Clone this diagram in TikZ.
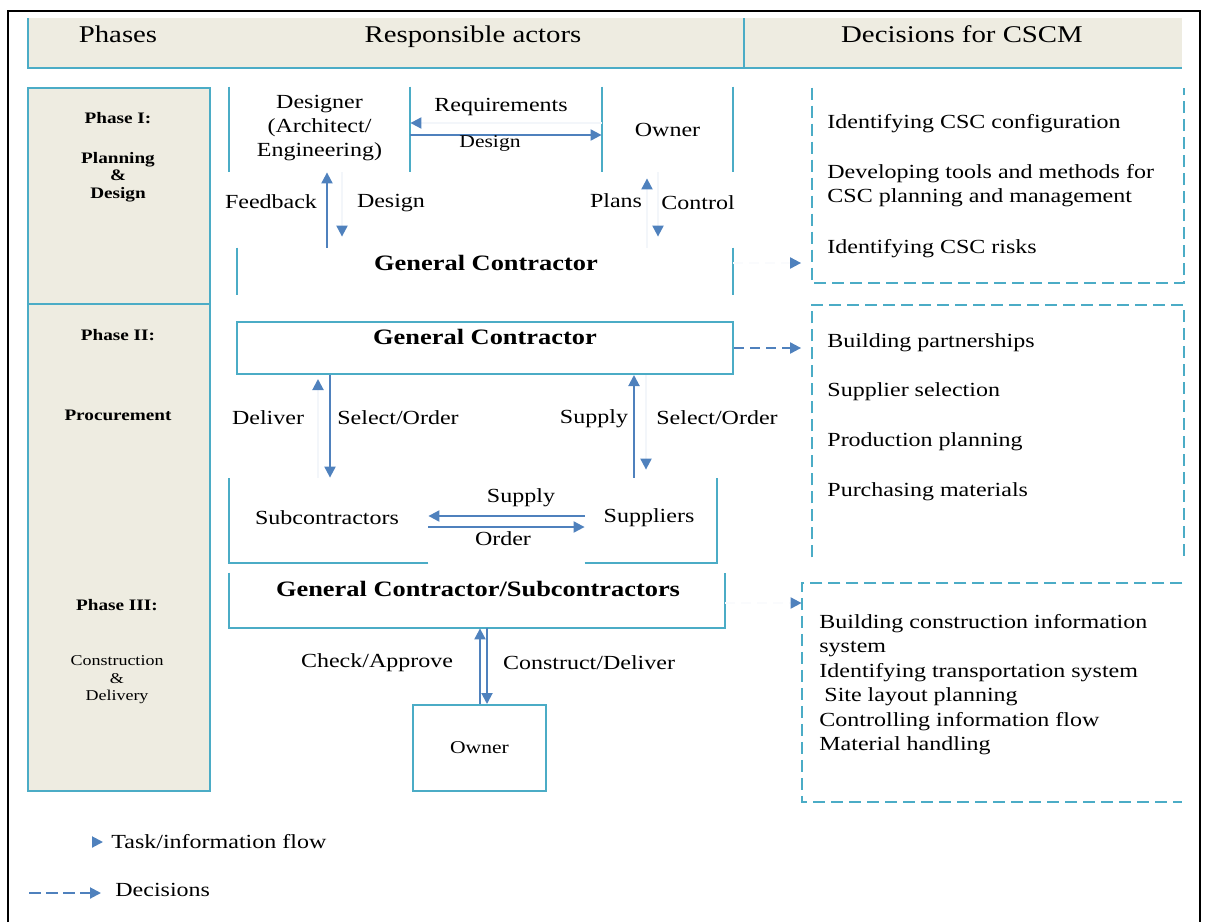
\documentclass[tikz,border=0pt]{standalone}
\usepackage{fontspec}
\setmainfont{Liberation Serif}[FakeStretch=1.2]
\usetikzlibrary{calc}
\usetikzlibrary{arrows.meta}
\definecolor{cadre}{HTML}{4BACC6}
\definecolor{fleche}{HTML}{4F81BD}
\definecolor{beige}{HTML}{EEECE1}
\newcommand{\Corps}[2]{\fontsize{#1}{#2}\selectfont}

\begin{document}
\begin{tikzpicture}[x=0.5pt,y=-0.5pt,
    trait/.style={draw=cadre,line width=1pt},
    pointille/.style={draw=cadre,line width=1pt,dash pattern=on 6pt off 3pt},
    flux/.style={draw=fleche,line width=1pt,-{Triangle[length=5.5pt,width=5.5pt]}},
    pale/.style={draw=fleche!7,line width=1pt,-{Triangle[length=5.5pt,width=5.5pt,color=fleche]}},
    decision/.style={draw=fleche,line width=1pt,dash pattern=on 5pt off 3pt,-{Triangle[length=5.5pt,width=5.5pt]}},
    decipale/.style={draw=fleche!3,line width=1pt,dash pattern=on 5pt off 3pt,-{Triangle[length=5.5pt,width=5.5pt,color=fleche]}},
    texte/.style={font=\Corps{10pt}{12pt},inner sep=0pt,align=center},
    gauche/.style={texte,anchor=west,align=left},
    titre/.style={font=\Corps{12pt}{14pt},inner sep=0pt,anchor=base},
    phase/.style={font=\bfseries\Corps{8pt}{8.75pt},inner sep=0pt,align=center},
    gras/.style={font=\bfseries\Corps{11pt}{13pt},inner sep=0pt},
    boite/.style={inner sep=0pt}]
\useasboundingbox (0,0) rectangle (1206,922);
\draw[line width=1.3pt] (8,922) -- (8,11) -- (1200,11) -- (1200,922);

% en-tete
\fill[beige] (28,18) rectangle (1182,68);
\draw[trait] (28,18) -- (28,68) -- (1182,68);
\draw[trait] (744,18) -- (744,68);
\node[titre] (hPh) at (118,42) {Phases};
\node[titre] (hAc) at (473,42) {Responsible actors};
\node[titre] (hDe) at (962,42) {Decisions for CSCM};

% colonne des phases
\draw[trait,fill=beige] (28,88) rectangle (210,304);
\draw[trait,fill=beige] (28,304) rectangle (210,791);
\node[phase] (p1) at (118,118) {Phase I:};
\node[phase] (p1n) at (118,177) {Planning\\\&\\Design};
\node[phase] (p2) at (118,335) {Phase II:};
\node[phase] (p2n) at (118,415) {Procurement};
\node[phase] (p3) at (117,605) {Phase III:};
\node[phase,font=\Corps{7.5pt}{8.75pt}] (p3n) at (117,680) {Construction\\\&\\Delivery};

% phase I
\node[texte,minimum width=90.5pt,minimum height=42.5pt] (des) at (319.5,128) {Designer\\(Architect/\\Engineering)};
\node[boite,minimum width=90.5pt,minimum height=42.5pt] (desb) at (319.5,129.5) {};
\node[texte,minimum width=65.5pt,minimum height=42.5pt] (own) at (667.5,129.5) {Owner};
\draw[trait] (desb.north west) -- (desb.south west) (desb.north east) -- (desb.south east);
\draw[trait] (own.north west) -- (own.south west) (own.north east) -- (own.south east);
\node[boite,minimum width=248pt,minimum height=23.5pt] (gc1) at (485,271.5) {};
\draw[trait] (gc1.north west) -- (gc1.south west) (gc1.north east) -- (gc1.south east);
\node[gras] (gc1t) at (486,263) {General Contractor};

\coordinate (rReq) at (0,123);
\coordinate (rDes) at (0,135);
\coordinate (rRisk) at (0,263);
\coordinate (cFb) at (327,0);
\coordinate (cDs) at (342,0);
\coordinate (cPl) at (647,0);
\coordinate (cCt) at (658,0);
\draw[pale] (own.west |- rReq) -- (desb.east |- rReq);
\draw[flux] (desb.east |- rDes) -- (own.west |- rDes);
\draw[flux] (gc1.north -| cFb) -- (desb.south -| cFb);
\draw[pale,shorten >=5.5pt] (desb.south -| cDs) -- (gc1.north -| cDs);
\draw[pale,shorten >=3pt] (gc1.north -| cPl) -- (own.south -| cPl);
\draw[pale,shorten >=5.5pt] (own.south -| cCt) -- (gc1.north -| cCt);
\node[texte] (lReq) at (501,107) {Requirements};
\node[texte,font=\Corps{9pt}{10pt}] (lDes) at (490,143) {Design};
\node[texte] (lFb) at (271,202) {Feedback};
\node[texte] (lDs) at (391,203) {Design};
\node[texte] (lPl) at (616,201) {Plans};
\node[texte] (lCt) at (698,203) {Control};

% decisions phase I
\node[boite,minimum width=185.5pt,minimum height=97.5pt] (dec1) at (998,185.5) {};
\draw[pointille] (dec1.north west) -- (dec1.south west) -- (dec1.south east) -- (dec1.north east);
\node[gauche] (d11) at (827,124) {Identifying CSC configuration};
\node[gauche] (d12) at (827,186) {Developing tools and methods for\\CSC planning and management};
\node[gauche] (d13) at (827,249) {Identifying CSC risks};
\draw[decipale,shorten >=5.5pt] (gc1.east |- rRisk) -- (dec1.west |- rRisk);

% phase II
\node[boite,draw=cadre,line width=1pt,minimum width=248pt,minimum height=26pt] (gc2) at (485,348) {};
\node[gras] (gc2t) at (485,337) {General Contractor};
\node[texte,minimum width=101pt] (subc) at (327,518) {Subcontractors};
\node[texte,minimum width=64pt] (supp) at (649,518) {Suppliers};
\node[boite,minimum width=244pt,minimum height=42.5pt] (sb) at (473,520.5) {};
\draw[trait] (subc.east |- sb.south) -- (sb.south west) -- (sb.north west);
\draw[trait] (supp.west |- sb.south) -- (sb.south east) -- (sb.north east);
\draw[flux] ([yshift=1pt]supp.west) -- ([yshift=1pt]subc.east);
\draw[flux] ([yshift=-4.5pt]subc.east) -- ([yshift=-4.5pt]supp.west);
\node[texte] (lSu) at (521,498) {Supply};
\node[texte] (lOr) at (503,539) {Order};

\coordinate (cDl) at (318,0);
\coordinate (cSo) at (330,0);
\coordinate (cSp) at (634,0);
\coordinate (cSt) at (646,0);
\draw[pale,shorten >=2pt] (sb.north -| cDl) -- (gc2.south -| cDl);
\draw[flux] (gc2.south -| cSo) -- (sb.north -| cSo);
\draw[flux] (sb.north -| cSp) -- (gc2.south -| cSp);
\draw[pale,shorten >=4pt] (gc2.south -| cSt) -- (sb.north -| cSt);
\node[texte] (lDl) at (268,418) {Deliver};
\node[texte] (lSo) at (398,418) {Select/Order};
\node[texte] (lSp) at (594,419) {Supply};
\node[texte] (lSt) at (717,418) {Select/Order};

% decisions phase II
\node[boite,minimum width=185.5pt,minimum height=126pt] (dec2) at (998,431) {};
\draw[pointille] (dec2.south west) -- (dec2.north west) -- (dec2.north east) -- (dec2.south east);
\node[gauche] (d21) at (827,343) {Building partnerships};
\node[gauche] (d22) at (827,392) {Supplier selection};
\node[gauche] (d23) at (827,442) {Production planning};
\node[gauche] (d24) at (827,492) {Purchasing materials};
\draw[decision,shorten >=5.5pt] (gc2.east) -- (dec2.west |- gc2.east);

% phase III
\node[boite,minimum width=248pt,minimum height=27.5pt] (gc3) at (477,600.5) {};
\draw[trait] (gc3.north west) -- (gc3.south west) -- (gc3.south east) -- (gc3.north east);
\node[gras] (gc3t) at (478,589) {General Contractor/Subcontractors};
\node[texte,draw=cadre,line width=1pt,minimum width=66.5pt,minimum height=43pt,font=\Corps{9pt}{10pt}] (own3) at (479.5,748) {Owner};
\coordinate (cCk) at (480,0);
\coordinate (cCo) at (487,0);
\draw[flux] (own3.north -| cCk) -- (gc3.south -| cCk);
\draw[flux] (gc3.south -| cCo) -- (own3.north -| cCo);
\node[texte] (lCk) at (377,663) {Check/Approve};
\node[texte] (lCo) at (589,663) {Construct/Deliver};

% decisions phase III
\node[boite,minimum width=190pt,minimum height=109.5pt] (dec3) at (992,692.5) {};
\draw[pointille] (dec3.north east) -- (dec3.north west) -- (dec3.south west) -- (dec3.south east);
\node[gauche,anchor=north west,font=\Corps{10pt}{12.2pt}] (d31) at (819,614) {Building construction information\\system\\Identifying transportation system\\\hspace{2.5pt}Site layout planning\\Controlling information flow\\Material handling};
\coordinate (rCon) at (0,603);
\draw[decipale] (gc3.east |- rCon) -- (dec3.west |- rCon);

% legende
\node[gauche] (leg1) at (111,842) {Task/information flow};
\draw[flux] ([xshift=-9.5pt]leg1.west) -- ([xshift=-4pt]leg1.west);
\node[gauche] (leg2) at (115,890) {Decisions};
\draw[decision,dash pattern=on 6pt off 2.5pt] ([shift={(-43pt,-1.5pt)}]leg2.west) -- ([shift={(-7pt,-1.5pt)}]leg2.west);
\end{tikzpicture}
\end{document}
